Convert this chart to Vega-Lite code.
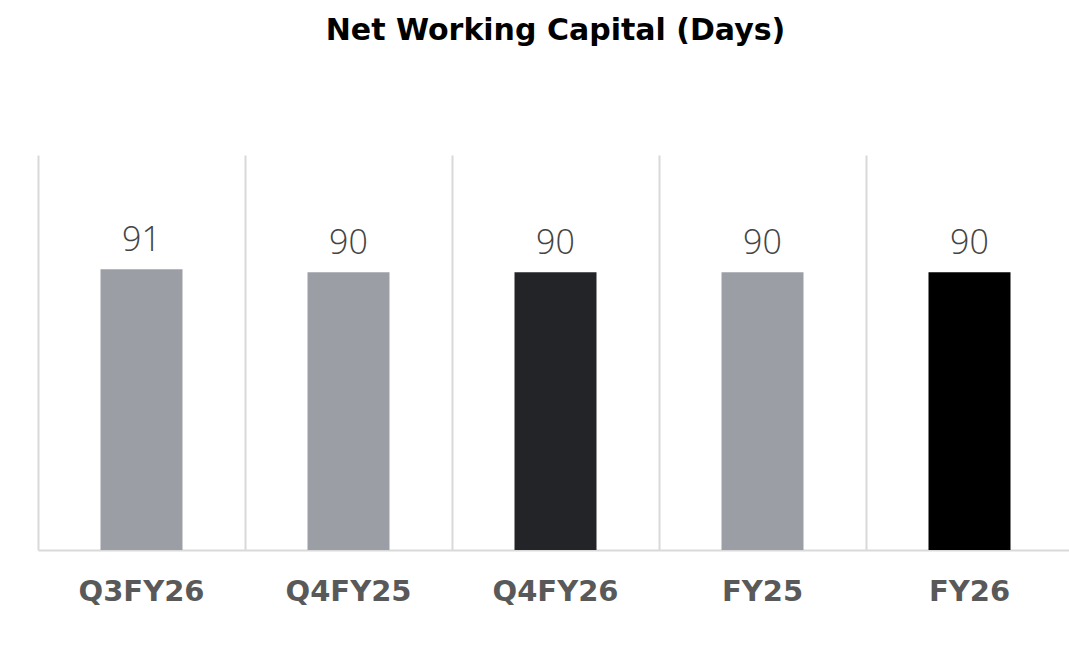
{
  "$schema": "https://vega.github.io/schema/vega-lite/v6.json",
  "autosize": {"type": "none"},
  "width": 1035,
  "height": 395,
  "padding": {"left": 38, "top": 155, "right": 0, "bottom": 95},
  "background": "white",
  "title": {
    "text": "Net Working Capital (Days)",
    "font": "DejaVu Sans",
    "fontSize": 30,
    "fontWeight": "bold",
    "color": "#000000",
    "anchor": "middle",
    "offset": 109
  },
  "data": {
    "values": [
      {"period": "Q3FY26", "days": 91, "kind": "other"},
      {"period": "Q4FY25", "days": 90, "kind": "other"},
      {"period": "Q4FY26", "days": 90, "kind": "q4fy26"},
      {"period": "FY25", "days": 90, "kind": "other"},
      {"period": "FY26", "days": 90, "kind": "fy26"}
    ]
  },
  "config": {"view": {"stroke": null}},
  "encoding": {
    "x": {
      "field": "period",
      "type": "nominal",
      "sort": ["Q3FY26", "Q4FY25", "Q4FY26", "FY25", "FY26"],
      "scale": {"paddingInner": 0, "paddingOuter": 0},
      "axis": {
        "title": null,
        "labelAngle": 0,
        "labelFont": "DejaVu Sans",
        "labelFontSize": 29,
        "labelFontWeight": "bold",
        "labelColor": "#595959",
        "labelPadding": 27,
        "ticks": false,
        "domain": true,
        "domainColor": "#d9d9d9",
        "domainWidth": 2,
        "grid": true,
        "gridColor": "#d9d9d9",
        "gridWidth": 2,
        "bandPosition": 0
      }
    },
    "y": {
      "field": "days",
      "type": "quantitative",
      "scale": {"domain": [0, 128]},
      "axis": null
    }
  },
  "layer": [
    {
      "mark": {"type": "bar", "size": 82},
      "encoding": {
        "color": {
          "field": "kind",
          "type": "nominal",
          "scale": {"domain": ["other", "q4fy26", "fy26"], "range": ["#9b9fa5", "#232427", "#000000"]},
          "legend": null
        }
      }
    },
    {
      "mark": {"type": "text", "baseline": "bottom", "dy": -11, "font": "Open Sans", "fontSize": 34, "fontWeight": 300, "color": "#444444"},
      "encoding": {"text": {"field": "days", "type": "quantitative"}}
    }
  ]
}
